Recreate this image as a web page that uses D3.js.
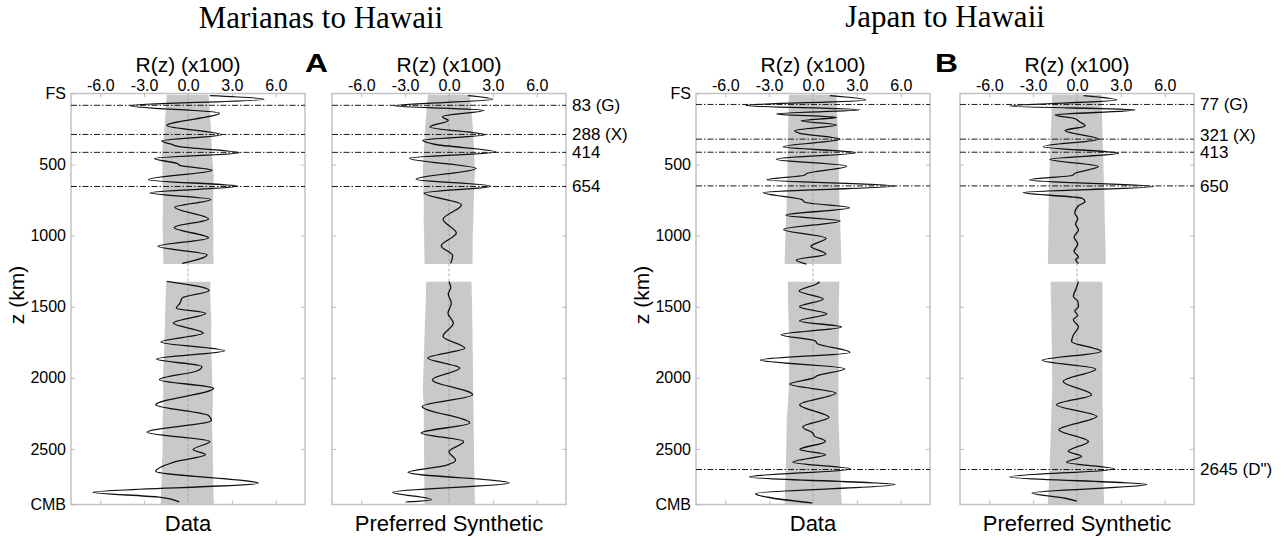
<!DOCTYPE html>
<html>
<head>
<meta charset="utf-8">
<script src="https://cdn.jsdelivr.net/npm/d3@7"></script>
<style>
  body { margin: 0; background: #fff; }
  svg { display: block; }
  text { font-family: "Liberation Sans", Arial, sans-serif; fill: #000; }
</style>
</head>
<body>
<div id="container"></div>
<script>
const width = 1286;
const height = 540;

// axis ticks
const rTicks = [-6, -3, 0, 3, 6];
const depthTicks = [0, 500, 1000, 1500, 2000, 2500, 2891];
const depthLabels = ["FS", "500", "1000", "1500", "2000", "2500", "CMB"];

// reflectors (depth km)
const marianasRefDepths = [83, 288, 414, 654];
const marianasRefLabels = ["83 (G)", "288 (X)", "414", "654"];
const japanRefDepths = [77, 321, 413, 650, 2645];
const japanRefLabels = ["77 (G)", "321 (X)", "413", "650", "2645 (D\")"];

// traces: [depth km, R(z) x100]
const marianasDataTop = [
  [15, 1.5], [40, 5.2], [86, -3.95], [138, 2.15], [225, -1.45], [290, 2.3], [334, -1.8], [355, -1.2],
  [374, -0.6], [416, 3.5], [457, -2.3], [492, -0.75], [505, -0.55], [540, 1.65], [606, -2.7], [653, 3.4],
  [698, -2.6], [745, 1.55], [800, -0.9], [882, 1.4], [943, -0.95], [1016, 1.4], [1075, -2.05], [1134, 1.3],
  [1195, -0.4]
];
const marianasDataBottom = [
  [1322, -1.45], [1386, 1.45], [1439, -0.4], [1475, -0.55], [1510, -0.8], [1545, 1.2], [1615, -1.0],
  [1685, 1.05], [1748, -1.85], [1810, 2.5], [1868, -2.15], [1920, 0.95], [1950, 0.65], [2013, -1.95],
  [2074, 1.75], [2189, -2.2], [2265, 1.4], [2300, 1.6], [2383, -2.8], [2447, 1.5], [2505, 0.35],
  [2540, 1.2], [2594, -1.0], [2657, -2.2], [2742, 4.8], [2805, -6.5], [2838, -2.1], [2873, -0.6]
];
const marianasSynTop = [
  [15, 1.3], [41, 3.0], [87, -3.75], [118, 2.4], [163, -0.45], [190, -0.05], [235, -1.3], [291, 2.45],
  [329, -1.8], [357, -1.0], [412, 3.2], [455, -2.7], [527, 1.85], [603, -2.25], [652, 2.85], [700, -1.7],
  [782, 0.85], [885, -0.4], [982, 0.5], [1072, -0.53], [1140, 0.25], [1195, 0.12]
];
const marianasSynBottom = [
  [1322, 0.0], [1365, 0.12], [1410, -0.05], [1475, 0.16], [1545, -0.07], [1615, 0.3], [1709, -0.41],
  [1791, 1.08], [1861, -1.45], [1931, 0.74], [2013, -1.14], [2119, 1.61], [2201, -1.83], [2318, 1.42],
  [2388, -1.9], [2447, 1.0], [2520, 0.0], [2580, 0.45], [2615, -0.2], [2665, -2.8], [2740, 4.1],
  [2805, -3.85], [2857, -1.2], [2873, -2.9]
];
const japanDataTop = [
  [15, 1.15], [45, 3.6], [84, -4.6], [115, 3.2], [144, -2.5], [168, 1.6], [192, -0.8], [222, 1.6],
  [262, -1.25], [280, -0.9], [322, 1.85], [375, -2.05], [416, 2.9], [462, -2.5], [511, 2.3], [561, -0.4],
  [575, -0.6], [607, -3.15], [651, 5.6], [697, -3.4], [747, -0.75], [765, -0.55], [804, 2.5], [856, -1.85],
  [896, 1.85], [956, -2.0], [1018, 0.9], [1075, -0.15], [1130, 0.87], [1172, -1.15], [1200, -0.45]
];
const japanDataBottom = [
  [1325, 0.45], [1340, 0.25], [1390, -0.95], [1445, 0.7], [1500, -0.92], [1550, 0.95], [1600, -0.92],
  [1643, 1.95], [1697, -2.17], [1740, 0.15], [1760, 0.3], [1821, 2.52], [1875, -3.6], [1936, 2.17],
  [1985, 0.3], [2000, 0.05], [2044, -1.6], [2107, 1.56], [2189, -0.91], [2278, 1.1], [2345, -0.7],
  [2390, 0.0], [2410, 0.1], [2447, 0.85], [2505, -0.91], [2540, 0.87], [2594, -1.37], [2641, 2.57],
  [2697, -4.34], [2751, 5.6], [2814, -3.93], [2880, -0.05]
];
const japanSynTop = [
  [15, 0.45], [46, 2.72], [88, -4.6], [116, 3.98], [151, -1.5], [174, -0.25], [200, 0.2], [228, 0.55],
  [261, -0.82], [322, 1.46], [374, -2.31], [421, 2.84], [463, -1.85], [514, 1.46], [561, -0.14],
  [575, -0.3], [608, -3.23], [655, 5.24], [697, -3.69], [737, 0.35], [760, 0.55], [790, 0.1], [842, -0.15],
  [880, 0.05], [920, -0.1], [960, 0.1], [1010, -0.2], [1060, 0.05], [1110, -0.2], [1150, 0.1],
  [1170, -0.1], [1195, 0.1]
];
const japanSynBottom = [
  [1322, 0.1], [1370, -0.05], [1428, -0.25], [1460, 0.05], [1498, 0.1], [1530, -0.15], [1560, 0.05],
  [1592, -0.25], [1640, 0.1], [1700, -0.25], [1744, -0.37], [1814, 1.65], [1877, -2.38], [1938, 1.28],
  [2025, -0.94], [2119, 1.0], [2189, -1.39], [2271, 1.35], [2365, -1.24], [2447, 0.78], [2517, -0.6],
  [2552, 0.32], [2594, -0.71], [2641, 2.56], [2697, -4.6], [2751, 4.78], [2810, -3.07], [2847, -0.8],
  [2868, -0.02]
];

// grey bands: [depth, left, right]
const marianasDataBandTop = [[8, -1.45, 1.42], [80, -1.5, 1.46], [150, -1.55, 1.5], [230, -1.6, 1.56],
  [300, -1.65, 1.6], [430, -1.79, 1.65], [520, -1.74, 1.72], [600, -1.75, 1.76], [700, -1.72, 1.73],
  [800, -1.7, 1.7], [900, -1.74, 1.72], [1000, -1.72, 1.74], [1100, -1.7, 1.72], [1200, -1.68, 1.76]];
const marianasDataBandBottom = [[1325, -1.49, 1.54], [1420, -1.53, 1.52], [1500, -1.55, 1.55],
  [1600, -1.57, 1.6], [1700, -1.6, 1.58], [1835, -1.63, 1.6], [1920, -1.68, 1.63], [2000, -1.72, 1.65],
  [2100, -1.69, 1.7], [2200, -1.7, 1.7], [2300, -1.74, 1.64], [2400, -1.75, 1.66], [2500, -1.73, 1.7],
  [2600, -1.78, 1.7], [2700, -1.8, 1.72], [2800, -1.84, 1.74], [2891, -1.86, 1.77]];
const marianasSynBandTop = [[8, -1.44, 1.42], [100, -1.52, 1.5], [200, -1.6, 1.6], [300, -1.66, 1.66],
  [400, -1.72, 1.72], [547, -1.79, 1.77], [680, -1.75, 1.72], [800, -1.72, 1.68], [900, -1.73, 1.66],
  [1000, -1.7, 1.62], [1100, -1.69, 1.62], [1200, -1.67, 1.6]];
const marianasSynBandBottom = [[1325, -1.56, 1.54], [1420, -1.58, 1.56], [1500, -1.6, 1.58],
  [1650, -1.66, 1.6], [1800, -1.7, 1.62], [1950, -1.75, 1.64], [2070, -1.79, 1.65], [2180, -1.74, 1.67],
  [2300, -1.72, 1.68], [2450, -1.71, 1.7], [2600, -1.7, 1.72], [2750, -1.68, 1.75], [2891, -1.67, 1.77]];
const japanDataBandTop = [[8, -1.65, 1.6], [150, -1.68, 1.66], [300, -1.72, 1.72], [480, -1.74, 1.75],
  [650, -1.76, 1.78], [780, -1.8, 1.82], [900, -1.85, 1.86], [1050, -1.9, 1.9], [1200, -1.94, 1.94]];
const japanDataBandBottom = [[1325, -1.72, 1.8], [1420, -1.71, 1.78], [1500, -1.7, 1.76],
  [1650, -1.65, 1.77], [1800, -1.62, 1.76], [1930, -1.64, 1.75], [2070, -1.65, 1.74], [2180, -1.72, 1.73],
  [2300, -1.8, 1.74], [2450, -1.82, 1.8], [2600, -1.85, 1.85], [2750, -1.9, 1.9], [2891, -1.94, 1.97]];
const japanSynBandTop = [[8, -1.69, 1.67], [150, -1.74, 1.71], [300, -1.8, 1.75], [480, -1.86, 1.8],
  [650, -1.92, 1.85], [780, -1.94, 1.88], [900, -1.95, 1.9], [1050, -1.97, 1.94], [1200, -1.99, 1.97]];
const japanSynBandBottom = [[1325, -1.81, 1.74], [1460, -1.78, 1.74], [1600, -1.75, 1.74],
  [1830, -1.72, 1.74], [2070, -1.69, 1.74], [2240, -1.75, 1.76], [2400, -1.8, 1.78], [2550, -1.85, 1.79],
  [2700, -1.9, 1.8], [2891, -1.99, 1.85]];

const svg = d3.select("#container")
  .append("svg")
  .attr("width", width)
  .attr("height", height);

const y = d3.scaleLinear().domain([0, 2891]).range([93.5, 504.5]);
const panelW = 234;

const panels = [
  { x0: 71, traces: [marianasDataTop, marianasDataBottom], bands: [marianasDataBandTop, marianasDataBandBottom],
    refs: marianasRefDepths, refLabels: null, leftAxis: true, caption: "Data" },
  { x0: 332, traces: [marianasSynTop, marianasSynBottom], bands: [marianasSynBandTop, marianasSynBandBottom],
    refs: marianasRefDepths, refLabels: marianasRefLabels, leftAxis: false, caption: "Preferred Synthetic" },
  { x0: 696, traces: [japanDataTop, japanDataBottom], bands: [japanDataBandTop, japanDataBandBottom],
    refs: japanRefDepths, refLabels: null, leftAxis: true, caption: "Data" },
  { x0: 960, traces: [japanSynTop, japanSynBottom], bands: [japanSynBandTop, japanSynBandBottom],
    refs: japanRefDepths, refLabels: japanRefLabels, leftAxis: false, caption: "Preferred Synthetic" }
];

panels.forEach(p => {
  const x = d3.scaleLinear().domain([-8, 8]).range([p.x0, p.x0 + panelW]);
  const g = svg.append("g");

  // grey band
  const area = d3.area()
    .y(d => y(d[0]))
    .x0(d => x(d[1]))
    .x1(d => x(d[2]));
  p.bands.forEach(b => {
    g.append("path").attr("d", area(b)).attr("fill", "#c9c9c9");
  });

  // zero line
  g.append("line")
    .attr("x1", x(0)).attr("x2", x(0))
    .attr("y1", y(0)).attr("y2", y(2891))
    .attr("stroke", "#9a9a9a")
    .attr("stroke-width", 0.8)
    .attr("stroke-dasharray", "3,2");

  // box
  g.append("rect")
    .attr("x", p.x0).attr("y", y(0))
    .attr("width", panelW).attr("height", y(2891) - y(0))
    .attr("fill", "none")
    .attr("stroke", "#c2c2c2")
    .attr("stroke-width", 1.5);

  // axes
  const top = g.append("g")
    .attr("transform", `translate(0,${y(0)})`)
    .call(d3.axisTop(x).tickValues(rTicks).tickSize(-4).tickPadding(3).tickFormat(d => d.toFixed(1)));
  const bottom = g.append("g")
    .attr("transform", `translate(0,${y(2891)})`)
    .call(d3.axisBottom(x).tickValues(rTicks).tickSize(-4).tickFormat(""));
  const right = g.append("g")
    .attr("transform", `translate(${p.x0 + panelW},0)`)
    .call(d3.axisRight(y).tickValues(depthTicks.slice(1, -1)).tickSize(-4).tickFormat(""));
  const left = g.append("g")
    .attr("transform", `translate(${p.x0},0)`)
    .call(d3.axisLeft(y).tickValues(p.leftAxis ? depthTicks : depthTicks.slice(1, -1))
      .tickSize(-4).tickPadding(5)
      .tickFormat((d, i) => p.leftAxis ? depthLabels[i] : ""));
  [top, bottom, right, left].forEach(a => {
    a.select(".domain").remove();
    a.selectAll(".tick line").attr("stroke", "#bdbdbd").attr("stroke-width", 1);
    a.selectAll("text")
      .attr("font-family", "\"Liberation Sans\", Arial, sans-serif")
      .attr("font-size", "16px")
      .attr("fill", "#000");
  });

  // reflector lines
  g.selectAll(".ref")
    .data(p.refs)
    .enter()
    .append("line")
    .attr("x1", p.x0).attr("x2", p.x0 + panelW)
    .attr("y1", d => y(d)).attr("y2", d => y(d))
    .attr("stroke", "#1a1a1a")
    .attr("stroke-width", 1)
    .attr("stroke-dasharray", "6,2,1.5,2");

  // trace
  const line = d3.line()
    .x(d => x(d[1]))
    .y(d => y(d[0]))
    .curve(d3.curveMonotoneY);
  p.traces.forEach(t => {
    g.append("path")
      .attr("d", line(t))
      .attr("fill", "none")
      .attr("stroke", "#111")
      .attr("stroke-width", 1.3);
  });

  // reflector labels, pushed apart when close
  if (p.refLabels) {
    const ys = p.refs.map(d => y(d));
    for (let i = ys.length - 1; i > 0; i--) {
      if (ys[i] - ys[i - 1] < 17) ys[i - 1] = ys[i] - 17;
    }
    g.selectAll(".reflabel")
      .data(p.refLabels)
      .enter()
      .append("text")
      .attr("x", p.x0 + panelW + 6)
      .attr("y", (d, i) => ys[i])
      .attr("dy", "0.35em")
      .attr("font-size", "17px")
      .text(d => d);
  }

  // header and caption
  g.append("text")
    .attr("x", x(0)).attr("y", 71.5)
    .attr("text-anchor", "middle")
    .attr("font-size", "21px")
    .text("R(z) (x100)");
  g.append("text")
    .attr("x", x(0)).attr("y", 531)
    .attr("text-anchor", "middle")
    .attr("font-size", "22px")
    .text(p.caption);

  if (p.leftAxis) {
    g.append("text")
      .attr("transform", `translate(${p.x0 - 47},295) rotate(-90)`)
      .attr("text-anchor", "middle")
      .attr("font-size", "21px")
      .text("z (km)");
  }
});

// panel letters
[["A", 305], ["B", 935]].forEach(([t, xp]) => {
  svg.append("text")
    .attr("x", xp).attr("y", 72)
    .attr("font-size", "26px")
    .attr("font-weight", "bold")
    .attr("textLength", 23)
    .attr("lengthAdjust", "spacingAndGlyphs")
    .text(t);
});

// titles
svg.append("text")
  .attr("x", 321).attr("y", 28)
  .attr("text-anchor", "middle")
  .style("font-family", "\"Liberation Serif\", \"Times New Roman\", serif")
  .attr("font-size", "31px")
  .text("Marianas to Hawaii");
svg.append("text")
  .attr("x", 945).attr("y", 27)
  .attr("text-anchor", "middle")
  .style("font-family", "\"Liberation Serif\", \"Times New Roman\", serif")
  .attr("font-size", "31px")
  .text("Japan to Hawaii");
</script>
</body>
</html>
